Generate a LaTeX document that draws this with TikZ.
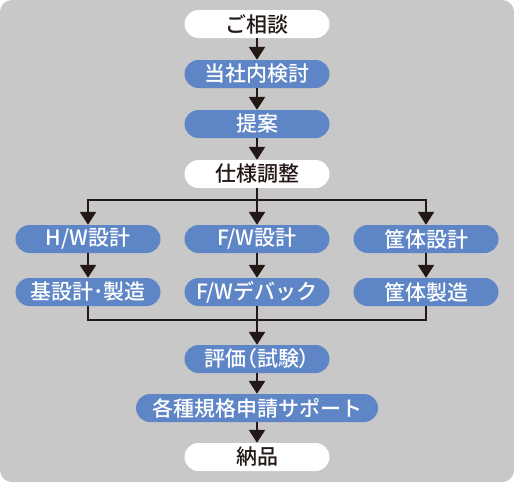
\documentclass[tikz,border=0pt]{standalone}
\usepackage{fontspec}
\setmainfont{Noto Sans CJK JP}[BoldFont={Noto Sans CJK JP Medium}]
\usetikzlibrary{arrows.meta}
\definecolor{bg}{RGB}{200,200,201}
\definecolor{pillblue}{RGB}{94,134,198}
\definecolor{ink}{RGB}{35,24,21}
\tikzset{
  pill/.style={rounded corners=14pt, minimum width=145pt, minimum height=28pt, inner sep=0pt, font=\fontsize{21pt}{23pt}\selectfont\bfseries},
  wpill/.style={pill, fill=white, text=ink},
  bpill/.style={pill, fill=pillblue, text=white},
  conn/.style={draw=ink, line width=2.5pt},
  arr/.style={conn, -{Triangle[width=16pt,length=13pt]}}
}
\begin{document}
\begin{tikzpicture}[x=1pt,y=-1pt]
\fill[bg, rounded corners=12pt] (0,0) rectangle (514,482);
\useasboundingbox (0,0) rectangle (514,482);
\node[wpill] (n1) at (257,24) {ご相談};
\node[bpill] (n2) at (257,74) {当社内検討};
\node[bpill] (n3) at (257,124) {提案};
\node[wpill] (n4) at (257,174) {仕様調整};
\node[bpill] (hw1) at (88,239) {H/W設計};
\node[bpill] (fw1) at (257,239) {F/W設計};
\node[bpill] (kt1) at (426,239) {筐体設計};
\node[bpill] (hw2) at (88,292) {基設計･製造};
\node[bpill] (fw2) at (257,292) {F/Wデバック};
\node[bpill] (kt2) at (426,292) {筐体製造};
\node[bpill] (ev) at (257,359) {\addfontfeatures{RawFeature=+palt}評価（試験）};
\node[bpill, minimum width=242pt] (sp) at (257,408) {各種規格申請サポート};
\node[wpill] (dl) at (257,457) {納品};
\coordinate (top) at (257,200);
\coordinate (bot) at (257,320);
\draw[arr] (n1) -- (n2);
\draw[arr] (n2) -- (n3);
\draw[arr] (n3) -- (n4);
\draw[conn] (n4) -- (top);
\draw[arr] (top) -| (hw1.north);
\draw[arr] (top) -- (fw1);
\draw[arr] (top) -| (kt1.north);
\draw[arr] (hw1) -- (hw2);
\draw[arr] (fw1) -- (fw2);
\draw[arr] (kt1) -- (kt2);
\draw[conn] (hw2.south) |- (bot);
\draw[conn] (kt2.south) |- (bot);
\draw[conn] (fw2) -- (bot);
\draw[arr] (bot) -- (ev);
\draw[arr] (ev) -- (sp);
\draw[arr] (sp) -- (dl);
\end{tikzpicture}
\end{document}
